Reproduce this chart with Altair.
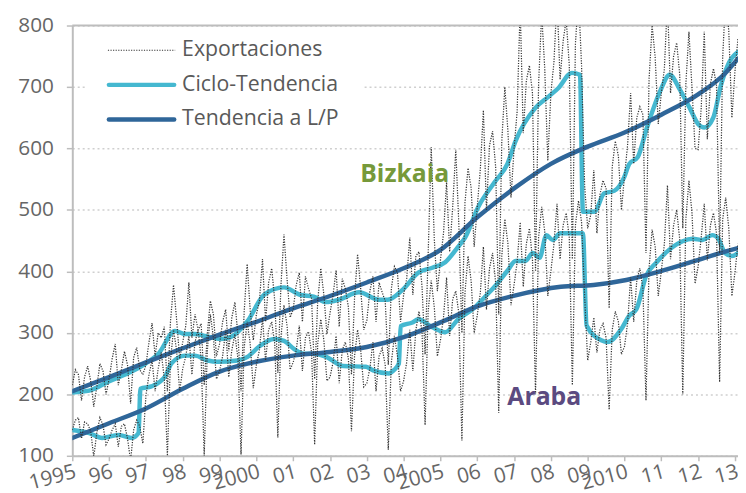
import altair as alt
import pandas as pd

# ---------------- data ----------------
tick_years = list(range(1995, 2014))
tick_labels = ["1995", "96", "97", "98", "99", "2000", "01", "02", "03", "04",
               "2005", "06", "07", "08", "09", "2010", "11", "12", "13"]

series_names = ["Exportaciones", "Ciclo-Tendencia", "Tendencia a L/P"]
region_names = ["Bizkaia", "Araba"]
region_label_x = [2004.03, 2007.82]
region_label_y = [558, 196]

# monthly exports, Jan 1995 .. Feb 2013
biz_exports = [
    215, 240, 232, 190, 228, 246, 222, 180, 212, 250, 238, 200,
    225, 258, 282, 215, 240, 270, 248, 185, 260, 276, 240, 232,
    248, 285, 316, 262, 300, 292, 310, 205, 318, 378, 322, 258,
    285, 312, 382, 292, 330, 305, 315, 215, 298, 352, 330, 262,
    282, 318, 338, 270, 325, 350, 296, 205, 332, 412, 336, 288,
    330, 352, 420, 318, 382, 405, 352, 235, 376, 460, 388, 325,
    338, 378, 398, 318, 392, 372, 356, 225, 352, 405, 362, 298,
    332, 362, 402, 310, 388, 372, 342, 232, 356, 428, 372, 305,
    320, 368, 392, 318, 382, 366, 352, 248, 372, 408, 398, 318,
    362, 388, 455, 362, 425, 432, 375, 265, 428, 602, 452, 368,
    418, 462, 545, 432, 505, 598, 476, 300, 512, 568, 536, 440,
    505, 566, 662, 500, 605, 628, 570, 330, 612, 700, 628, 520,
    600, 660, 830, 625, 710, 735, 690, 400, 705, 820, 730, 580,
    690, 740, 845, 712, 775, 810, 735, 420, 770, 850, 735, 540,
    470, 492, 565, 462, 525, 548, 535, 340, 570, 612, 588, 500,
    555, 605, 690, 575, 650, 668, 655, 430, 712, 800, 748, 640,
    690, 730, 840, 690, 750, 772, 720, 470, 705, 790, 698, 600,
    598, 665, 790, 615, 705, 730, 702, 430, 748, 850, 790, 650,
    725, 780,
]
ara_exports = [
    142, 158, 162, 128, 155, 152, 140, 98, 138, 162, 150, 118,
    128, 142, 152, 115, 148, 152, 128, 92, 142, 158, 148, 120,
    198, 232, 255, 205, 242, 268, 225, 100, 255, 305, 272, 205,
    242, 262, 295, 232, 285, 305, 258, 100, 270, 330, 292, 225,
    238, 262, 305, 228, 272, 298, 258, 102, 275, 318, 282, 210,
    248, 272, 325, 255, 305, 318, 282, 130, 292, 345, 312, 240,
    252, 272, 312, 238, 292, 302, 268, 118, 282, 322, 288, 222,
    228, 252, 295, 218, 272, 285, 258, 140, 262, 305, 272, 212,
    218, 242, 285, 205, 262, 275, 248, 110, 252, 295, 262, 205,
    222, 252, 305, 238, 305, 335, 302, 150, 335, 385, 342, 262,
    288, 325, 390, 295, 355, 368, 332, 125, 365, 425, 385, 300,
    328, 365, 440, 338, 405, 430, 382, 170, 425, 485, 445, 345,
    378, 415, 480, 375, 445, 470, 420, 200, 455, 505, 465, 360,
    400, 445, 510, 420, 475, 495, 455, 215, 475, 515, 480, 360,
    255, 285, 325, 268, 305, 315, 292, 175, 305, 335, 318, 265,
    278, 315, 390, 318, 385, 405, 372, 190, 405, 468, 440, 360,
    400, 445, 540, 420, 475, 500, 452, 200, 485, 548, 495, 380,
    408, 455, 510, 418, 475, 495, 462, 220, 485, 520, 470, 360,
    398, 445,
]

# cycle-trend (read at points along the curve)
biz_ct_x = [1995.00, 1995.46, 1995.99, 1996.61, 1996.99, 1997.34, 1997.79, 1998.06,
            1998.33, 1998.60, 1999.03, 1999.30, 1999.76, 2000.21, 2000.75, 2001.18,
            2001.56, 2001.90, 2002.25, 2002.79, 2003.33, 2003.57, 2003.97, 2004.40,
            2004.78, 2005.13, 2005.48, 2005.67, 2006.02, 2006.47, 2006.82, 2007.04,
            2007.58, 2007.93, 2008.20, 2008.57, 2008.79, 2008.87, 2009.18, 2009.45,
            2009.72, 2009.99, 2010.13, 2010.36, 2010.61, 2010.96, 2011.23, 2011.50,
            2011.77, 2012.01, 2012.17, 2012.41, 2012.62, 2012.84, 2013.08]
biz_ct_y = [203, 206, 221, 237, 250, 266, 303, 298,
            298, 295, 290, 293, 319, 362, 374, 362,
            359, 350, 354, 366, 354, 354, 370, 398,
            406, 415, 440, 455, 504, 545, 575, 612,
            666, 684, 698, 723, 720, 497, 497, 527,
            531, 553, 575, 586, 634, 692, 720, 696,
            666, 639, 634, 650, 703, 740, 757]

ara_ct_x = [1995.00, 1995.46, 1995.81, 1996.26, 1996.61, 1996.80, 1996.85, 1997.15,
            1997.53, 1997.69, 1998.06, 1998.33, 1998.68, 1998.95, 1999.49, 1999.76,
            2000.10, 2000.48, 2000.75, 2001.02, 2001.29, 2001.56, 2001.90, 2002.36,
            2002.98, 2003.17, 2003.60, 2003.73, 2003.87, 2003.92, 2004.24, 2004.40,
            2004.78, 2005.13, 2005.48, 2005.93, 2006.20, 2006.47, 2006.82, 2007.04,
            2007.31, 2007.51, 2007.69, 2007.88, 2008.05, 2008.25, 2008.87, 2008.97,
            2009.37, 2009.54, 2009.91, 2010.13, 2010.32, 2010.59, 2010.86, 2011.21,
            2011.58, 2011.85, 2012.12, 2012.38, 2012.54, 2012.73, 2012.92, 2013.08]
ara_ct_y = [142, 137, 129, 134, 129, 137, 209, 213,
            230, 250, 263, 263, 255, 253, 255, 261,
            279, 290, 287, 274, 266, 266, 261, 246,
            245, 239, 234, 239, 250, 311, 317, 322,
            309, 301, 322, 341, 358, 375, 401, 417,
            417, 430, 422, 459, 451, 462, 462, 312,
            288, 285, 306, 328, 338, 393, 414, 435,
            449, 453, 451, 459, 454, 430, 425, 430]

# long-term trend
biz_lt_x = [1995.0, 1996.0, 1997.0, 1998.0, 1999.0, 2000.0, 2001.0, 2002.0, 2003.0,
            2004.0, 2005.0, 2006.0, 2007.0, 2008.0, 2009.0, 2010.0, 2011.0, 2012.0,
            2012.73, 2013.08]
biz_lt_y = [205, 228, 252, 275, 297, 318, 340, 360, 382,
            405, 435, 488, 535, 575, 603, 626, 655, 688,
            722, 746]

ara_lt_x = [1995.0, 1996.0, 1997.0, 1998.0, 1999.0, 1999.76, 2001.0, 2002.0, 2003.0,
            2004.0, 2005.0, 2006.0, 2007.04, 2008.27, 2009.16, 2010.05, 2010.96,
            2011.85, 2012.73, 2013.08]
ara_lt_y = [129, 153, 177, 209, 237, 250, 263, 269, 277,
            293, 317, 343, 361, 375, 378, 386, 400,
            416, 432, 438]

# ---------------- tables ----------------
def month_x(i):
    return 1995 + i / 12.0

exp_rows = []
for reg, vals in zip(region_names, [biz_exports, ara_exports]):
    for i, v in enumerate(vals):
        exp_rows.append({"region": reg, "x": month_x(i), "y": v})
exp_df = pd.DataFrame(exp_rows)

ct_rows = []
for reg, xs, ys in zip(region_names, [biz_ct_x, ara_ct_x], [biz_ct_y, ara_ct_y]):
    for i, (xv, yv) in enumerate(zip(xs, ys)):
        ct_rows.append({"region": reg, "x": xv, "y": yv, "o": i})
ct_df = pd.DataFrame(ct_rows)

lt_rows = []
for reg, xs, ys in zip(region_names, [biz_lt_x, ara_lt_x], [biz_lt_y, ara_lt_y]):
    for i, (xv, yv) in enumerate(zip(xs, ys)):
        lt_rows.append({"region": reg, "x": xv, "y": yv, "o": i})
lt_df = pd.DataFrame(lt_rows)

lab_df = pd.DataFrame({"region": region_names, "x": region_label_x, "y": region_label_y,
                       "color": ["#76993A", "#5B4A80"]})

FONT = "Open Sans"
LIGHT = "#45B8D0"
DARK = "#2F6699"
GRAY_TXT = "#666666"
DOT = "#333333"

label_array = "[" + ",".join("'" + s + "'" for s in tick_labels) + "]"

xscale = alt.Scale(domain=[1995, 2013.083], nice=False, zero=False)
yscale = alt.Scale(domain=[100, 800], nice=False, zero=False)

xaxis = alt.Axis(values=tick_years, labelExpr=label_array + "[round(datum.value - 1995)]",
                 labelAngle=345, labelAlign="right", labelBaseline="top",
                 labelFontSize=21, labelColor=GRAY_TXT, labelFont=FONT,
                 labelPadding=0, tickSize=5, tickColor="#BDBDBD", tickWidth=1.5,
                 domainColor="#BDBDBD", domainWidth=2, grid=False, title=None,
                 labelOverlap=False, labelFlush=False, labelBound=False)
yaxis = alt.Axis(values=[100, 200, 300, 400, 500, 600, 700, 800],
                 labelFontSize=21, labelColor=GRAY_TXT, labelFont=FONT,
                 labelPadding=13, tickSize=6, tickColor="#BDBDBD", tickWidth=1.5,
                 domainColor="#BDBDBD", domainWidth=2,
                 grid=True, gridColor="#CFCFCF", gridDash=[2, 3], gridWidth=1.5,
                 labelOverlap=False, title=None)

X = alt.X("x:Q", scale=xscale, axis=xaxis)
Y = alt.Y("y:Q", scale=yscale, axis=yaxis)

top_rule = alt.Chart(pd.DataFrame({"y": [800]})).mark_rule(color="#BDBDBD", strokeWidth=2).encode(
    y=Y)

base_ct = alt.Chart(ct_df).mark_line(color=LIGHT, strokeWidth=4.5, interpolate="monotone",
                                      clip=True, strokeCap="round", strokeJoin="round").encode(
    x=X, y=Y, detail="region:N", order="o:Q")
base_lt = alt.Chart(lt_df).mark_line(color=DARK, strokeWidth=4.5, interpolate="monotone",
                                      clip=True, strokeCap="round").encode(
    x=X, y=Y, detail="region:N", order="o:Q")
base_exp = alt.Chart(exp_df).mark_line(color=DOT, strokeWidth=1.25, strokeDash=[1.2, 1.4],
                                        clip=True).encode(
    x=X, y=Y, detail="region:N")

region_text = alt.Chart(lab_df).mark_text(font=FONT, fontSize=25, fontWeight="bold",
                                          align="center", baseline="middle").encode(
    x=X, y=Y, text="region:N", color=alt.Color("color:N", scale=None))

# legend (drawn in pixel space, top-left inside the plot)
leg_box = alt.Chart(pd.DataFrame({"a": [0]})).mark_rect(color="white").encode(
    x=alt.value(13), x2=alt.value(295), y=alt.value(6), y2=alt.value(116))
leg_df = pd.DataFrame({"name": series_names, "py": [25, 60, 95]})
leg_exp = alt.Chart(leg_df.iloc[[0]]).mark_rule(color=DOT, strokeWidth=1.25,
                                                  strokeDash=[1.2, 1.4]).encode(
    x=alt.value(36), x2=alt.value(104), y=alt.value(25))
leg_ct = alt.Chart(leg_df.iloc[[1]]).mark_rule(color=LIGHT, strokeWidth=4.5, strokeCap="round").encode(
    x=alt.value(37), x2=alt.value(103), y=alt.value(60))
leg_lt = alt.Chart(leg_df.iloc[[2]]).mark_rule(color=DARK, strokeWidth=4.5, strokeCap="round").encode(
    x=alt.value(37), x2=alt.value(103), y=alt.value(95))
leg_txt = alt.Chart(leg_df).mark_text(font=FONT, fontSize=21.5, color="#595959",
                                      align="left", baseline="middle").encode(
    x=alt.value(111), y=alt.Y("py:Q", scale=None), text="name:N")

chart = alt.layer(
    base_ct, top_rule, base_lt, base_exp, region_text,
    leg_box, leg_exp, leg_ct, leg_lt, leg_txt,
).properties(
    width=673, height=435,
    autosize=alt.AutoSizeParams(type="none"),
    padding={"left": 65, "top": 15, "right": 0, "bottom": 45},
).configure_view(stroke=None).configure_axis(labelFont=FONT).configure_axisX(labelOverlap=False)

chart.save("out.html", embed_options={"renderer": "svg", "actions": False})
